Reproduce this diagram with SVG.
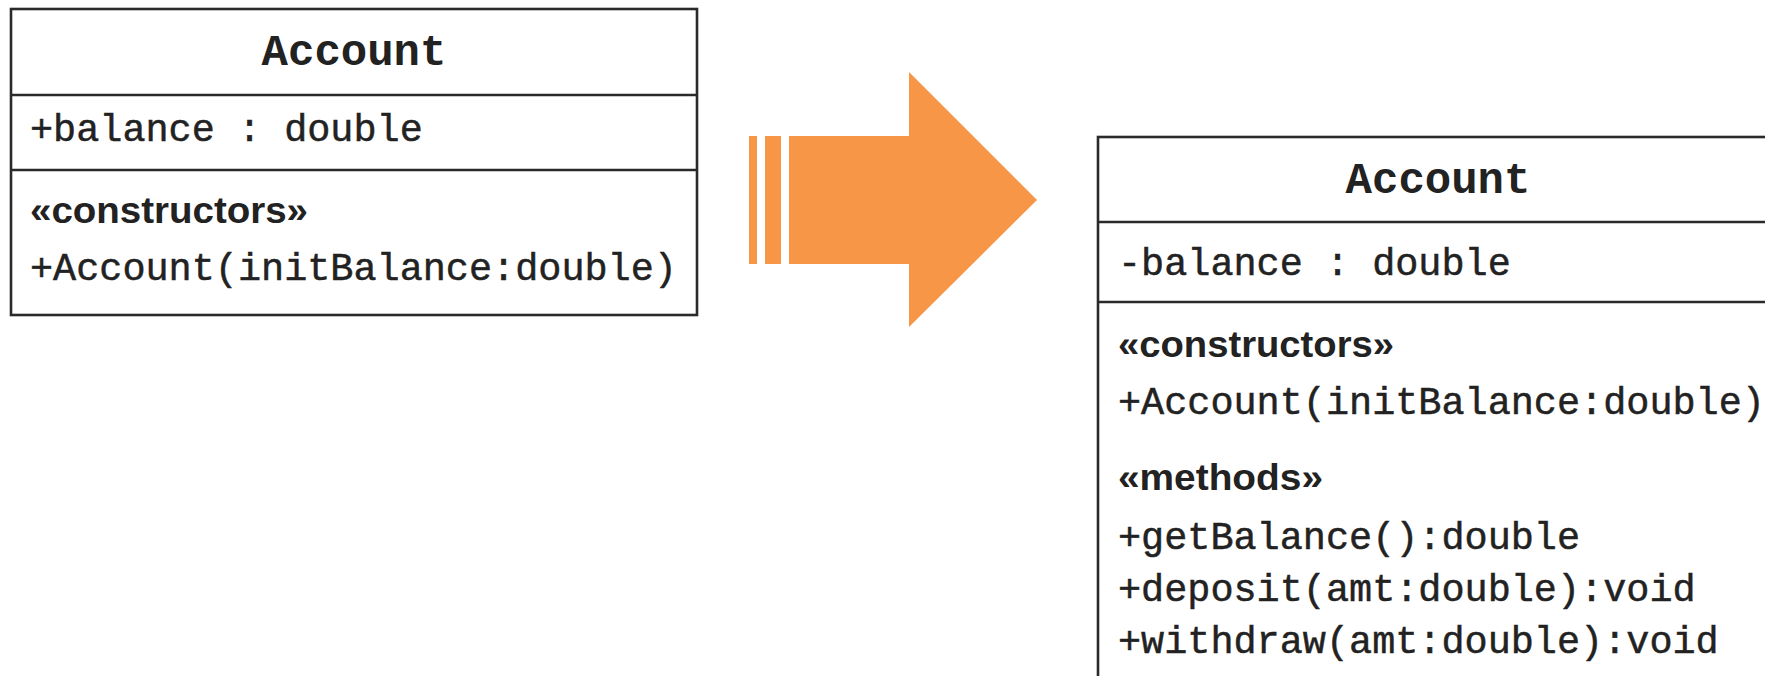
<svg xmlns="http://www.w3.org/2000/svg" width="1765" height="676" viewBox="0 0 1765 676">
<style>
.box{fill:#fff;stroke:#2a2a2a;stroke-width:2.6}
.div{stroke:#2a2a2a;stroke-width:2.6}
.title{font-family:"Liberation Mono","Courier New",monospace;font-size:44px;font-weight:bold;fill:#222;text-anchor:middle}
.mono{font-family:"Liberation Mono","Courier New",monospace;font-size:38.5px;fill:#222;stroke:#222;stroke-width:0.5}
.stereo{font-family:"Liberation Sans",Arial,sans-serif;font-size:37px;font-weight:bold;fill:#222}
.arrow{fill:#F79646}
</style>
<rect width="1765" height="676" fill="#fff"/>
<g id="account-before">
<rect class="box" x="11" y="9" width="686" height="306"/>
<line class="div" x1="11" y1="95" x2="697" y2="95"/>
<line class="div" x1="11" y1="170" x2="697" y2="170"/>
<text class="title" x="354" y="65">Account</text>
<text class="mono" x="30" y="141">+balance : double</text>
<text class="stereo" x="30" y="223" textLength="278" lengthAdjust="spacingAndGlyphs">«constructors»</text>
<text class="mono" x="30" y="280">+Account(initBalance:double)</text>
</g>
<g id="connectors">
<rect class="arrow" x="749" y="136" width="8" height="128"/>
<rect class="arrow" x="765" y="136" width="16" height="128"/>
<polygon class="arrow" points="789,136 909,136 909,72 1037,200 909,327 909,264 789,264"/>
</g>
<g id="account-after">
<rect class="box" x="1098" y="137" width="700" height="600"/>
<line class="div" x1="1098" y1="222" x2="1798" y2="222"/>
<line class="div" x1="1098" y1="302" x2="1798" y2="302"/>
<text class="title" x="1438" y="193">Account</text>
<text class="mono" x="1118" y="275">-balance : double</text>
<text class="stereo" x="1118" y="357" textLength="276" lengthAdjust="spacingAndGlyphs">«constructors»</text>
<text class="mono" x="1118" y="414">+Account(initBalance:double)</text>
<text class="stereo" x="1118" y="490" textLength="205" lengthAdjust="spacingAndGlyphs">«methods»</text>
<text class="mono" x="1118" y="549">+getBalance():double</text>
<text class="mono" x="1118" y="601">+deposit(amt:double):void</text>
<text class="mono" x="1118" y="653">+withdraw(amt:double):void</text>
</g>
</svg>
